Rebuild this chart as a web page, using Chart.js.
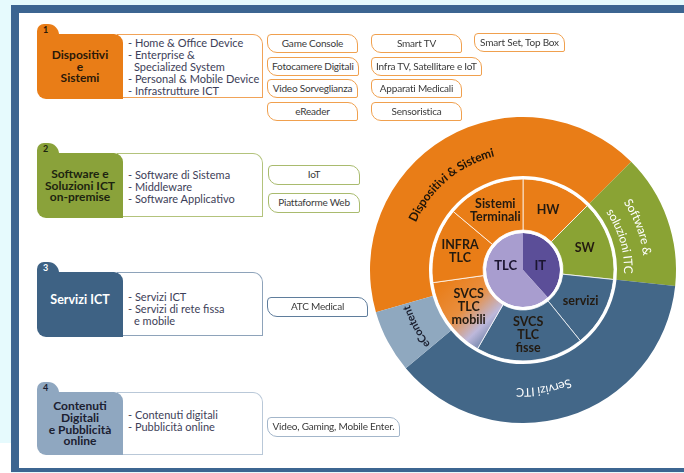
<!DOCTYPE html>
<html lang="it">
<head>
<meta charset="utf-8">
<title>Mercato digitale - segmenti</title>
<script src="https://cdn.jsdelivr.net/npm/chart.js@4.4.0/dist/chart.umd.min.js"></script>
<style>
    html, body { margin: 0; padding: 0; }
    body {
        width: 684px; height: 473px; position: relative; overflow: hidden;
        background: #e6fafd; font-family: Lato, "Open Sans", sans-serif;
    }
    .cornice {
        position: absolute; left: 11px; top: 5px; width: 720px; height: 467px;
        background: #fff; box-sizing: border-box;
        border: 8px solid #3c6591; border-right: none; border-bottom-width: 4px;
    }
    .angolo { position: absolute; left: 0; top: 443px; width: 11px; height: 30px; background: #fff; }

    .gruppo { position: absolute; left: 37px; width: 226px; height: 75px; }
    .g1 { top: 24px; } .g2 { top: 143px; } .g3 { top: 262px; } .g4 { top: 382px; }
    .tab {
        position: absolute; left: 0; top: 0; width: 22px; height: 16px;
        border-radius: 7px 11px 0 0; box-sizing: border-box; padding: 1px 0 0 6px;
        font: bold 9px/10px Lato, sans-serif;
    }
    .testata {
        position: absolute; left: 0; top: 10px; width: 86px; height: 65px; z-index: 2;
        border-radius: 0 9px 0 9px; display: flex; align-items: center; justify-content: center;
        text-align: center; white-space: pre-line; font: bold 12px/11.6px Lato, sans-serif;
    }
    .descr {
        position: absolute; left: 80px; top: 10px; width: 146px; height: 64px; z-index: 1;
        background: #fff; border: 1px solid; border-left: none; border-radius: 0 10px 0 0;
        box-sizing: border-box; padding: 2px 0 0 11px; font: 11px/12px Lato, sans-serif; color: #3d3e58;
    }
    .descr div { white-space: nowrap; }
    .descr .rientro { padding-left: 6px; }

    .g1 .tab, .g1 .testata { background: #e97d17; color: #2a1808; }
    .g1 .descr { border-color: #f1a358; }
    .g2 .tab, .g2 .testata { background: #8aa23a; color: #1d2410; }
    .g2 .descr { border-color: #b3c37c; padding-top: 15px; }
    .g3 .tab, .g3 .testata { background: #3e6284; color: #fff; }
    .g3 .testata { padding-bottom: 10px; box-sizing: border-box; font-size: 12.5px; }
    .g3 .descr { border-color: #8ea3ba; padding-top: 18px; }
    .g4 .tab, .g4 .testata { background: #8fa7c0; color: #1b2030; }
    .g4 .testata { height: 63px; }
    .g4 .descr { border-color: #b9c8d8; padding-top: 16px; height: 63px; }

    .tags { position: absolute; }
    .t1 { left: 267px; top: 34px; } .t2 { left: 268px; top: 165px; }
    .t3 { left: 267px; top: 297px; } .t4 { left: 267px; top: 417px; }
    .colonna {
        position: absolute; left: 0; top: 0; display: flex; flex-direction: column;
        align-items: flex-start; gap: 3.7px;
    }
    .t1 .colonna:nth-child(2) { left: 104px; }
    .t1 .colonna:nth-child(3) { left: 207px; top: -1px; }
    .tag {
        min-width: 91px; height: 19px; box-sizing: border-box; padding: 0 4px;
        border: 1.5px solid; border-radius: 4px 10px 2px 10px; background: #fff;
        font: 10px/16px Lato, sans-serif; letter-spacing: -0.2px; text-align: center;
        color: #3a3a3a; white-space: nowrap;
    }
    .t1 .tag { border-color: #f0a04e; }
    .t2 .colonna { gap: 8px; }
    .t2 .tag { border-color: #a9bb6e; width: 92px; height: 20px; line-height: 17px; }
    .t3 .tag { border-color: #5f7d9c; width: 101px; height: 20px; line-height: 17px; }
    .t4 .tag { border-color: #a3b6ca; width: 133px; height: 20px; line-height: 17px; }

    #anello { position: absolute; left: 363px; top: 110px; z-index: 0; }
</style>
</head>
<body>
<div class="cornice"></div>
<div class="angolo"></div>
<canvas id="anello" width="320" height="320"></canvas>
<div id="schema"></div>

<script>
// Riquadri a sinistra
const numeriBox = ['1', '2', '3', '4'];
const titoliBox = [
    'Dispositivi\ne\nSistemi',
    'Software e\nSoluzioni ICT\non-premise',
    'Servizi ICT',
    'Contenuti\nDigitali\ne Pubblicità\nonline'
];
const vociBox = [
    ['- Home & Office Device', '- Enterprise &', 'Specialized System', '- Personal & Mobile Device', '- Infrastrutture ICT'],
    ['- Software di Sistema', '- Middleware', '- Software Applicativo'],
    ['- Servizi ICT', '- Servizi di rete fissa', 'e mobile'],
    ['- Contenuti digitali', '- Pubblicità online']
];
const tagBox = [
    [['Game Console', 'Fotocamere Digitali', 'Video Sorveglianza', 'eReader'],
     ['Smart TV', 'Infra TV, Satellitare e IoT', 'Apparati Medicali', 'Sensoristica'],
     ['Smart Set, Top Box']],
    [['IoT', 'Piattaforme Web']],
    [['ATC Medical']],
    [['Video, Gaming, Mobile Enter.']]
];

// Anello: quote in gradi, dall'esterno verso il centro
const esternoEtichette = ['Dispositivi & Sistemi', 'Software & soluzioni ITC', 'Servizi ITC', 'eContent'];
const esternoQuote = [151, 51, 134, 24];
const medioEtichette = ['HW', 'SW', 'servizi', 'SVCS\nTLC\nfisse', 'SVCS\nTLC\nmobili', 'INFRA\nTLC', 'Sistemi\nTerminali'];
const medioQuote = [45, 51, 45, 69, 52, 48, 50];
const centroEtichette = ['IT', 'TLC'];
const centroQuote = [138, 222];

const ARANCIO = '#e97d17', VERDE = '#8aa334', BLU = '#436788', AZZURRO = '#8fa8bf';
const coloriEsterno = [ARANCIO, VERDE, BLU, AZZURRO];
const coloriMedio = [ARANCIO, VERDE, BLU, BLU, ARANCIO, ARANCIO, ARANCIO];
const coloriCentro = ['#5b4e98', '#a89dcf'];

// Costruzione riquadri
function costruisciSchema() {
    const schema = document.getElementById('schema');
    titoliBox.forEach((titolo, i) => {
        const g = document.createElement('div');
        g.className = 'gruppo g' + (i + 1);
        const righe = vociBox[i].map(v =>
            `<div class="${v.startsWith('-') ? '' : 'rientro'}">${v}</div>`).join('');
        g.innerHTML = `
            <div class="tab">${numeriBox[i]}</div>
            <div class="testata">${titolo}</div>
            <div class="descr">${righe}</div>`;
        schema.appendChild(g);

        const t = document.createElement('div');
        t.className = 'tags t' + (i + 1);
        tagBox[i].forEach(col => {
            const c = document.createElement('div');
            c.className = 'colonna';
            col.forEach(nome => {
                const d = document.createElement('div');
                d.className = 'tag';
                d.textContent = nome;
                c.appendChild(d);
            });
            t.appendChild(c);
        });
        schema.appendChild(t);
    });
}

// Sfumatura del settore "SVCS TLC mobili"
function coloreMedio(context) {
    if (context.type !== 'data') return ARANCIO;
    const i = context.dataIndex;
    if (i !== 4) return coloriMedio[i];
    const chart = context.chart;
    const area = chart.chartArea;
    if (!area) return coloriMedio[i];
    const cx = (area.left + area.right) / 2;
    const cy = (area.top + area.bottom) / 2;
    const g = chart.ctx.createLinearGradient(cx - 72, cy + 2, cx - 14, cy + 62);
    g.addColorStop(0, '#e97d17');
    g.addColorStop(0.42, '#e98e3e');
    g.addColorStop(0.72, '#bdb8db');
    g.addColorStop(1, '#4b6a90');
    return g;
}

// Testo curvo lungo l'arco (angolo misurato dall'alto in senso orario)
function testoSuArco(ctx, testo, cx, cy, r, angolo) {
    const larghezza = ctx.measureText(testo).width;
    let a = angolo - larghezza / r / 2;
    for (const ch of testo) {
        const w = ctx.measureText(ch).width;
        const m = a + (w / 2) / r;
        ctx.save();
        ctx.translate(cx + r * Math.sin(m), cy - r * Math.cos(m));
        ctx.rotate(m);
        ctx.fillText(ch, 0, 0);
        ctx.restore();
        a += w / r;
    }
}

const stileEsterno = [
    { righe: ['Dispositivi & Sistemi'], spost: [-9.5], raggi: [121], colore: '#1e1408', font: 'bold 12px Lato' },
    { righe: ['Software &', 'soluzioni ITC'], spost: [-1, 3], raggi: [125, 105], colore: '#ffffff', font: '12px Lato' },
    { righe: ['Servizi ITC'], spost: [7], raggi: [122], colore: '#ffffff', font: '12px Lato' },
    { righe: ['eContent'], spost: [0], raggi: [122], colore: '#1c2030', font: 'bold 11px Lato' }
];

const etichettePlugin = {
    id: 'etichette',
    afterDatasetsDraw(chart) {
        const ctx = chart.ctx;
        ctx.save();
        ctx.textAlign = 'center';
        ctx.textBaseline = 'middle';

        // anello esterno: testo curvo
        chart.getDatasetMeta(0).data.forEach((arc, i) => {
            const s = stileEsterno[i];
            const medio = (arc.startAngle + arc.endAngle) / 2 + Math.PI / 2;
            ctx.font = s.font;
            ctx.fillStyle = s.colore;
            s.righe.forEach((riga, k) => {
                testoSuArco(ctx, riga, arc.x, arc.y, s.raggi[k], medio + s.spost[k] * Math.PI / 180);
            });
        });

        // anello medio
        ctx.font = 'bold 12.5px Lato';
        ctx.fillStyle = '#231a10';
        chart.getDatasetMeta(2).data.forEach((arc, i) => {
            const p = arc.getCenterPoint();
            const righe = medioEtichette[i].split('\n');
            const passo = 13;
            righe.forEach((r, k) => {
                ctx.fillText(r, p.x, p.y + (k - (righe.length - 1) / 2) * passo);
            });
        });

        // centro
        ctx.font = 'bold 13px Lato';
        ctx.fillStyle = '#1b1530';
        chart.getDatasetMeta(4).data.forEach((arc, i) => {
            const p = arc.getCenterPoint();
            ctx.fillText(centroEtichette[i], p.x, arc.y - 4);
        });
        ctx.restore();
    }
};

function disegnaAnello() {
    const ctx = document.getElementById('anello').getContext('2d');
    new Chart(ctx, {
        type: 'doughnut',
        data: {
            labels: esternoEtichette,
            datasets: [
                { data: esternoQuote, backgroundColor: coloriEsterno, borderWidth: 0, rotation: 254, weight: 59 },
                { data: [1], backgroundColor: '#ffffff', borderWidth: 0, weight: 3 },
                { data: medioQuote, backgroundColor: coloreMedio, borderWidth: 1,
                  borderColor: 'rgba(255,255,255,0.75)', weight: 51 },
                { data: [1], backgroundColor: '#ffffff', borderWidth: 0, weight: 3 },
                { data: centroQuote, backgroundColor: coloriCentro, borderWidth: 0, weight: 37 }
            ]
        },
        options: {
            responsive: false,
            animation: false,
            radius: 153,
            cutout: 0,
            events: [],
            layout: { padding: 0 },
            plugins: { legend: { display: false }, tooltip: { enabled: false } }
        },
        plugins: [etichettePlugin]
    });
}

costruisciSchema();
disegnaAnello();
</script>
</body>
</html>
